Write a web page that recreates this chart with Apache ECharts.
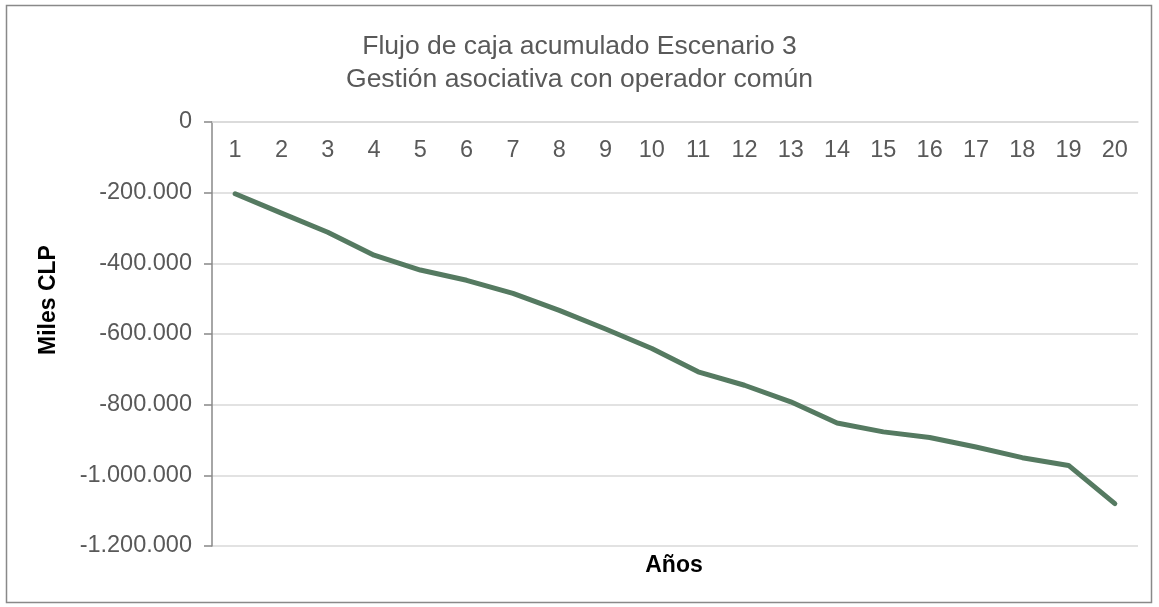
<!DOCTYPE html>
<html>
<head>
<meta charset="utf-8">
<script src="https://cdn.jsdelivr.net/npm/echarts@6/dist/echarts.min.js"></script>
<style>
  html, body { margin: 0; padding: 0; background: #fff; }
  #chart { width: 1159px; height: 607px; }
</style>
</head>
<body>
<div id="chart"></div>
<script>
// Cumulative cash flow, thousands of CLP
var years = ['1', '2', '3', '4', '5', '6', '7', '8', '9', '10',
  '11', '12', '13', '14', '15', '16', '17', '18', '19', '20'];
var flujoAcumulado = [-203000, -258000, -312000, -377000, -419000, -448000,
  -485000, -533000, -586000, -641000, -707000, -745000, -792000, -852000,
  -877000, -893000, -920000, -950000, -972000, -1080000];
var yTicks = { min: -1200000, max: 0, step: 200000 };

var textColor = '#595959';
var font = '"Liberation Sans", Arial, sans-serif';

function miles(v) {
  var s = Math.abs(v).toString().replace(/\B(?=(\d{3})+(?!\d))/g, '.');
  return (v < 0 ? '-' : '') + s;
}

var chart = echarts.init(document.getElementById('chart'));
chart.setOption({
  animation: false,
  title: {
    text: 'Flujo de caja acumulado Escenario 3\nGestión asociativa con operador común',
    left: 'center',
    top: 25,
    textStyle: { color: textColor, fontFamily: font, fontSize: 26.5, fontWeight: 'normal', lineHeight: 33 }
  },
  graphic: [
    {
      type: 'rect',
      shape: { x: 6.5, y: 5.5, width: 1145, height: 597 },
      style: { fill: 'none', stroke: '#898989', lineWidth: 1.5 },
      silent: true
    },
    {
      type: 'text',
      x: 674,
      y: 566,
      style: {
        text: 'Años', fill: '#000', font: 'bold 23px ' + font,
        textAlign: 'center', textVerticalAlign: 'middle', verticalAlign: 'middle'
      }
    },
    {
      type: 'text',
      x: 49,
      y: 300,
      rotation: Math.PI / 2,
      style: {
        text: 'Miles CLP', fill: '#000', font: 'bold 23px ' + font,
        textAlign: 'center', textVerticalAlign: 'middle', verticalAlign: 'middle'
      }
    }
  ],
  grid: { left: 212, right: 21, top: 122, bottom: 61 },
  xAxis: {
    type: 'category',
    data: years,
    position: 'top',
    boundaryGap: true,
    axisLine: { show: true, lineStyle: { color: '#d9d9d9', width: 1.5 } },
    axisTick: { show: false },
    axisLabel: { inside: true, margin: 17, color: textColor, fontFamily: font, fontSize: 23.5 },
    splitLine: { show: false }
  },
  yAxis: {
    type: 'value',
    min: yTicks.min,
    max: yTicks.max,
    interval: yTicks.step,
    axisLine: { show: true, lineStyle: { color: '#888', width: 1.5 } },
    axisTick: { show: true, length: 8, lineStyle: { color: '#888', width: 1.5 } },
    axisLabel: { color: textColor, fontFamily: font, fontSize: 23.5, margin: 20, formatter: miles },
    splitLine: { lineStyle: { color: '#d9d9d9', width: 1.5 } }
  },
  series: [{
    type: 'line',
    data: flujoAcumulado,
    symbol: 'none',
    smooth: false,
    lineStyle: { color: '#557a61', width: 5, cap: 'round', join: 'round' }
  }]
});
</script>
</body>
</html>
